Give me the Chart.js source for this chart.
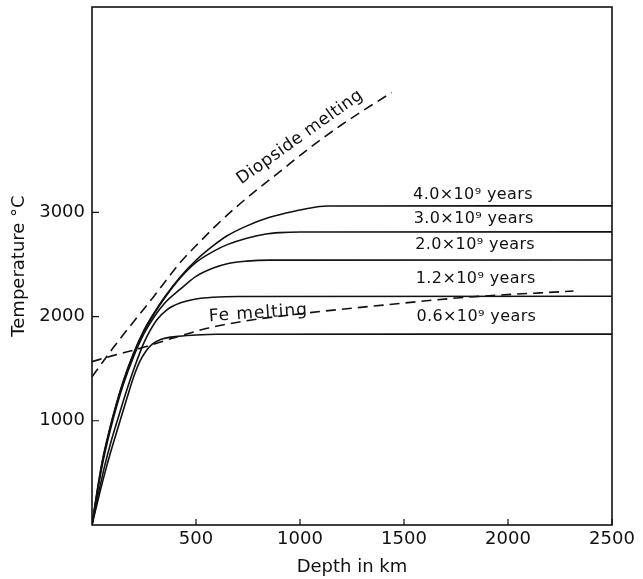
<!DOCTYPE html>
<html><head><meta charset="utf-8">
<script src="https://cdn.jsdelivr.net/npm/chart.js@4"></script>
<style>html,body{margin:0;padding:0;background:#fff}#wrap{width:643px;height:579px;position:relative}</style>
</head><body><div id="wrap"><canvas id="c" width="643" height="579"></canvas></div>
<script>
// ---- tick values ----
const xTickValues = [500, 1000, 1500, 2000, 2500];
const yTickValues = [1000, 2000, 3000];

// ---- series: depth (km) and temperature (°C) ----
const depth40 = [0,25,50,75,100,150,200,250,300,350,424,500,583,650,745,850,937,1030,1130,2500];
const temp40  = [0,330,620,840,1040,1380,1650,1870,2040,2190,2380,2540,2680,2775,2870,2950,2995,3035,3060,3062];

const depth30 = [0,25,50,75,100,150,200,250,300,350,424,500,583,650,744,830,904,1000,2500];
const temp30  = [0,320,605,830,1030,1370,1640,1860,2030,2180,2370,2520,2625,2690,2752,2790,2805,2811,2812];

const depth20 = [0,25,50,75,100,150,200,250,300,350,423,500,583,660,744,850,2500];
const temp20  = [0,305,580,805,1005,1345,1615,1835,2000,2130,2260,2385,2465,2512,2532,2541,2542];

const depth12 = [0,30,60,90,120,160,200,250,311,360,423,500,583,700,2500];
const temp12  = [0,290,560,790,990,1250,1490,1750,1967,2065,2130,2168,2185,2193,2195];

const depth06 = [0,35,70,100,135,170,200,230,260,290,330,400,500,600,2500];
const temp06  = [0,290,560,770,1000,1230,1420,1570,1670,1735,1780,1808,1823,1830,1831];

const depthDiopside = [0,50,100,150,200,300,423,520,600,696,792,900,1048,1200,1440];
const tempDiopside  = [1422,1560,1695,1825,1950,2200,2515,2720,2880,3055,3215,3385,3620,3840,4150];

const depthFe = [0,100,223,400,560,744,1016,1400,1800,2315];
const tempFe  = [1567,1625,1690,1800,1890,1960,2030,2110,2185,2245];

// ---- text labels ----
const curveLabels = ['4.0×10⁹ years','3.0×10⁹ years','2.0×10⁹ years','1.2×10⁹ years','0.6×10⁹ years'];
const curveLabelDepth = [1832,1835,1842,1845,1848];
const curveLabelTemp  = [3167,2937,2687,2361,1996];
const meltLabels = ['Diopside melting','Fe melting'];
const meltLabelDepth = [1000, 800];
const meltLabelTemp  = [3720, 2030];
const meltLabelAngle = [-35.5, -4];

const pts = (xs, ys) => xs.map((x, i) => ({x, y: ys[i]}));
const solid = (label, xs, ys) => ({label, data: pts(xs, ys), borderColor:'#111', borderWidth:1.6,
  pointRadius:0, fill:false, cubicInterpolationMode:'monotone', tension:0.4});
const dashed = (label, xs, ys) => ({label, data: pts(xs, ys), borderColor:'#111', borderWidth:1.6,
  borderDash:[10,6], pointRadius:0, fill:false, cubicInterpolationMode:'monotone', tension:0.4});

const FONT = '"DejaVu Sans", sans-serif';

const frameAndTicks = {
  id:'frameAndTicks',
  afterDatasetsDraw(chart){
    const {ctx, chartArea:a, scales:{x, y}} = chart;
    ctx.save();
    ctx.strokeStyle = '#111';
    ctx.lineWidth = 1.6;
    ctx.strokeRect(a.left, a.top, a.right - a.left, a.bottom - a.top);
    ctx.lineWidth = 1.2;
    ctx.beginPath();
    xTickValues.forEach(v => { const px = x.getPixelForValue(v); ctx.moveTo(px, a.bottom); ctx.lineTo(px, a.bottom - 6); });
    yTickValues.forEach(v => { const py = y.getPixelForValue(v); ctx.moveTo(a.left, py); ctx.lineTo(a.left + 7, py); });
    ctx.stroke();
    ctx.restore();
  }
};

const textLabels = {
  id:'textLabels',
  afterDatasetsDraw(chart){
    const {ctx, scales:{x, y}} = chart;
    ctx.save();
    ctx.fillStyle = '#111';
    ctx.textAlign = 'center';
    ctx.textBaseline = 'middle';
    ctx.font = '16px ' + FONT;
    if ('letterSpacing' in ctx) ctx.letterSpacing = '0.4px';
    curveLabels.forEach((t, i) => {
      ctx.fillText(t, x.getPixelForValue(curveLabelDepth[i]), y.getPixelForValue(curveLabelTemp[i]));
    });
    meltLabels.forEach((t, i) => {
      ctx.save();
      ctx.translate(x.getPixelForValue(meltLabelDepth[i]), y.getPixelForValue(meltLabelTemp[i]));
      ctx.rotate(meltLabelAngle[i] * Math.PI / 180);
      ctx.font = '17px ' + FONT;
      if ('letterSpacing' in ctx) ctx.letterSpacing = i === 1 ? '1px' : '0.4px';
      ctx.fillText(t, 0, 0);
      ctx.restore();
    });
    ctx.restore();
  }
};

new Chart(document.getElementById('c'), {
  type:'line',
  data:{ datasets:[
    solid(curveLabels[0], depth40, temp40),
    solid(curveLabels[1], depth30, temp30),
    solid(curveLabels[2], depth20, temp20),
    solid(curveLabels[3], depth12, temp12),
    solid(curveLabels[4], depth06, temp06),
    dashed(meltLabels[0], depthDiopside, tempDiopside),
    dashed(meltLabels[1], depthFe, tempFe)
  ]},
  options:{
    responsive:false, devicePixelRatio:1, animation:false,
    layout:{ padding:{ left:0, right:31, top:7, bottom:0 } },
    plugins:{ legend:{display:false}, tooltip:{enabled:false} },
    scales:{
      x:{ type:'linear', min:0, max:2500,
        grid:{display:false, drawTicks:false}, border:{display:false},
        afterBuildTicks(s){ s.ticks = xTickValues.map(v => ({value:v})); },
        afterFit(s){ s.height = 54; s.paddingLeft = 0; s.paddingRight = 0; },
        ticks:{ color:'#111', padding:4, maxRotation:0, autoSkip:false, font:{family:FONT, size:18},
          callback:(v) => String(v) },
        title:{ display:true, text:'Depth in km', color:'#111', font:{family:FONT, size:18}, padding:{top:0, bottom:1} }
      },
      y:{ type:'linear', min:0, max:4970,
        grid:{display:false, drawTicks:false}, border:{display:false},
        afterBuildTicks(s){ s.ticks = yTickValues.map(v => ({value:v})); },
        afterFit(s){ s.width = 92; s.paddingTop = 0; s.paddingBottom = 0; },
        ticks:{ color:'#111', padding:7, autoSkip:false, font:{family:FONT, size:18},
          callback:(v) => String(v) },
        title:{ display:true, text:'Temperature °C', color:'#111', font:{family:FONT, size:18}, padding:{top:9, bottom:0} }
      }
    }
  },
  plugins:[frameAndTicks, textLabels]
});
</script></body></html>
